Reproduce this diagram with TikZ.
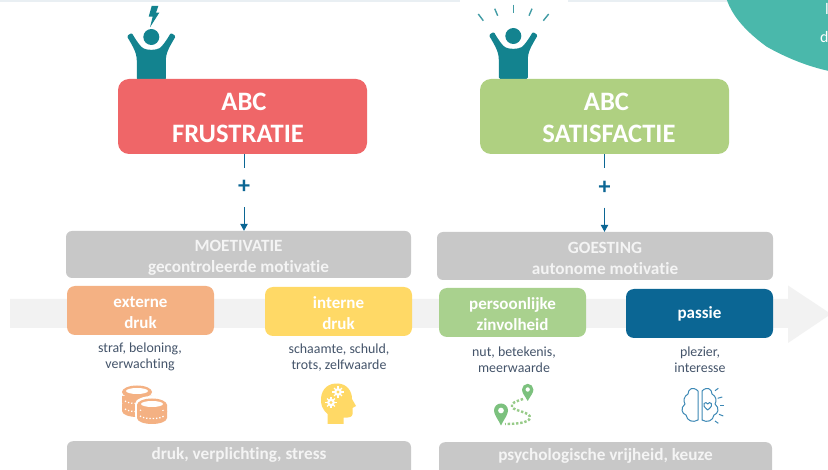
\documentclass[tikz,border=0pt]{standalone}
\usepackage{fontspec}
\setmainfont[Ligatures=CommonOff]{Carlito}
\usetikzlibrary{arrows.meta}
\definecolor{redbox}{HTML}{EF6668}
\definecolor{greenbox}{HTML}{AFD081}
\definecolor{greybox}{HTML}{C8C8C8}
\definecolor{orangebox}{HTML}{F4B183}
\definecolor{yellowbox}{HTML}{FFD966}
\definecolor{leafbox}{HTML}{A9D18E}
\definecolor{bluebox}{HTML}{0B6694}
\definecolor{blobcol}{HTML}{4AB8AB}
\definecolor{figcol}{HTML}{13838F}
\definecolor{subtext}{HTML}{44546A}
\definecolor{bandcol}{HTML}{F2F2F2}
\definecolor{topband}{HTML}{E9EFF3}
\definecolor{pincol}{HTML}{7CC17E}
\definecolor{braincol}{HTML}{3C88B5}
\definecolor{softwhite}{HTML}{F4F4F4}
\newcommand\lowered[1]{\rule{0pt}{#1pt}}
\tikzset{
  x=1pt,y=-1pt,
  abcbox/.style={rounded corners=11pt,inner sep=0pt,minimum width=249pt,minimum height=75pt,text=white,align=center,
     font=\bfseries\fontsize{26.6}{32}\selectfont},
  headbox/.style={fill=greybox,rounded corners=6pt,inner sep=0pt,text=softwhite,align=center,
     font=\bfseries\fontsize{17.2}{21}\selectfont},
  kindbox/.style={rounded corners=8pt,inner sep=0pt,minimum width=147pt,minimum height=49pt,text=white,align=center,
     font=\bfseries\fontsize{17}{21}\selectfont},
  sublabel/.style={inner sep=0pt,text=subtext,align=center,font=\fontsize{13.9}{16.5}\selectfont},
  plusnode/.style={inner sep=0pt,minimum width=14pt,minimum height=39pt,text=bluebox,font=\bfseries\fontsize{24}{24}\selectfont},
  link/.style={draw=bluebox,line width=1pt},
  person/.pic={
    \fill[figcol] (0,0) circle[radius=8];
    \fill[figcol,draw=figcol,line width=3pt,line join=round]
      (-13,41.5) -- (-13,24) .. controls (-13,15) and (-17,9) .. (-22.5,-0.5)
      -- (-20,-2) .. controls (-16,5) and (-12,10.5) .. (-9,12.5)
      .. controls (-5,15) and (5,15) .. (9,12.5)
      .. controls (12,10.5) and (16,5) .. (20,-2) -- (22.5,-0.5)
      .. controls (17,9) and (13,15) .. (13,24) -- (13,41.5) -- cycle;
  },
  coinlayer/.pic={
    \fill[orangebox] (-15,0) -- (-15,7) .. controls (-15,10.5) and (-8,13) .. (0,13)
       .. controls (8,13) and (15,10.5) .. (15,7) -- (15,0) -- cycle;
    \draw[white,line width=1.3pt,dash pattern=on 1.3pt off 2pt] (-12,5) .. controls (-8,8.5) and (8,8.5) .. (12,5);
  },
  cointop/.pic={
    \fill[orangebox] (0,0) ellipse[x radius=15,y radius=6.5];
    \fill[white] (0,-1) ellipse[x radius=11,y radius=3];
  },
  coinhalo/.pic={
    \fill[white] (-17,0) -- (-17,12) .. controls (-17,17) and (-8,20) .. (0,20)
       .. controls (8,20) and (17,17) .. (17,12) -- (17,0) .. controls (17,-5) and (8,-8) .. (0,-8)
       .. controls (-8,-8) and (-17,-5) .. (-17,0) -- cycle;
  }
}
\begin{document}
\begin{tikzpicture}
\path[use as bounding box,clip] (0,0) rectangle (828,470);
\fill[white] (0,0) rectangle (828,470);
\fill[topband] (0,0) rectangle (828,2);
\fill[white] (460,0) rectangle (568,2);
% teal corner
\fill[blobcol] (726.5,-1) .. controls (733,18) and (748,33) .. (766.7,46.7) .. controls (785,57) and (806,66) .. (829,71) -- (829,-1) -- cycle;
\node[anchor=base,white,inner sep=0pt,font=\fontsize{16}{16}\selectfont] (cornerA) at (827,15) {l};
\node[anchor=base west,white,inner sep=0pt,font=\fontsize{16}{16}\selectfont] (cornerB) at (820,43) {d};
% big arrow
\fill[bandcol] (10,299) -- (788,299) -- (788,285.5) -- (831,314) -- (788,343) -- (788,328) -- (10,328) -- cycle;
% figures
\pic at (151.3,37) {person};
\fill[figcol] (151.7,6) -- (158.3,6) -- (156,12.7) -- (159.3,12.7) -- (150,27.3) -- (152.7,16.7) -- (148.7,16.7) -- cycle;
\pic at (513.3,36) {person};
\foreach \xa/\ya/\xb/\yb in {478.3/14/483.3/20.7, 494.7/8.7/497.7/15.7, 513.3/4.7/513.3/12.7, 532/8.7/529/15.7, 548.7/14/543.3/20.7}
  \draw[figcol!80!white,line width=1.4pt] (\xa,\ya) -- (\xb,\yb);
% main boxes
\node[abcbox,fill=redbox] (frus) at (242.5,116.5) {\lowered{21}\hspace*{3pt}ABC\\FRUSTRATIE\hspace*{9pt}};
\node[abcbox,fill=greenbox] (sat) at (604.5,116.5) {\lowered{21}\hspace*{4pt}ABC\\\hspace*{9pt}SATISFACTIE};
\node[headbox,minimum width=345pt,minimum height=47pt] (moet) at (238.5,254.5) {\lowered{17}MOETIVATIE\\gecontroleerde motivatie};
\node[headbox,minimum width=336pt,minimum height=48pt] (goes) at (605,256) {\lowered{17}GOESTING\\autonome motivatie};
\node[plusnode] (plusA) at (244,187.5) {\raisebox{-6.5pt}[0pt][0pt]{+}};
\node[plusnode] (plusB) at (604.5,188) {\raisebox{-6.5pt}[0pt][0pt]{+}};
\draw[link] (plusA |- frus.south) -- (plusA);
\draw[link,-{Triangle[length=7pt,width=7.5pt]}] (plusA) -- (plusA |- moet.north);
\draw[link] (plusB |- sat.south) -- (plusB);
\draw[link,-{Triangle[length=7pt,width=7.5pt]}] (plusB) -- (plusB |- goes.north);
% kinds
\node[kindbox,fill=orangebox] (ext) at (140.5,310.5) {\lowered{15}externe\\druk};
\node[kindbox,fill=yellowbox] (int) at (338.5,311.5) {\lowered{15}interne\\druk};
\node[kindbox,fill=leafbox] (pers) at (512.5,312.5) {\lowered{16}persoonlijke\\zinvolheid};
\node[kindbox,fill=bluebox] (pass) at (699.5,313.5) {passie};
\node[sublabel] (subA) at (140,357) {straf, beloning,\\verwachting};
\node[sublabel] (subB) at (339,357.5) {schaamte, schuld,\\trots, zelfwaarde};
\node[sublabel] (subC) at (514,359.5) {nut, betekenis,\\meerwaarde};
\node[sublabel] (subD) at (700,359.5) {plezier,\\interesse};
% bottom
\node[headbox,minimum width=344pt,minimum height=50pt,anchor=north] (botA) at (239,441) {\raisebox{25pt}{druk, verplichting, stress}};
\node[headbox,minimum width=333pt,minimum height=50pt,anchor=north] (botB) at (605.5,442) {\raisebox{25pt}{psychologische vrijheid, keuze}};
% coins
\pic at (137,396) {coinlayer};
\pic at (137,404) {coinlayer};
\pic at (137,392) {cointop};
\pic at (152,404) {coinhalo};
\pic at (152,405) {coinlayer};
\pic at (152,411) {coinlayer};
\pic at (152,405) {cointop};
% head with gears
\fill[yellowbox] (327.5,424) -- (327.5,414) .. controls (322,409) and (320.5,404) .. (321,398)
  .. controls (322,388) and (329,383) .. (338,383.5) .. controls (347,384) and (352,391) .. (352,399)
  -- (356,406) -- (352.5,408) -- (352.5,414) .. controls (352.5,417) and (349,418) .. (343.5,417.5) -- (343.5,424) -- cycle;
\foreach \cx/\cy in {338/392,331/402.5}{
  \fill[white] (\cx,\cy) circle[radius=3.9];
  \foreach \a in {0,45,...,315}
    \draw[white,line width=1.4pt] (\cx,\cy) -- ++(\a:5.6);
  \fill[yellowbox] (\cx,\cy) circle[radius=1.7];
}
% map pins
\draw[leafbox!60!pincol,line width=2.4pt,dash pattern=on 2.4pt off 1.8pt]
  (523,399) .. controls (517,401) and (510,403) .. (512,407)
  .. controls (514,411) and (531,412) .. (530,418)
  .. controls (529,423) and (515,424) .. (505,424);
\fill[pincol,even odd rule] (501,425.5) .. controls (498,419) and (494,415) .. (494,410.5)
  .. controls (494,406.6) and (497.1,403.5) .. (501,403.5) .. controls (504.9,403.5) and (508,406.6) .. (508,410.5)
  .. controls (508,415) and (504,419) .. (501,425.5) -- cycle
  (501,410.5) circle[radius=3];
\fill[pincol,even odd rule] (527.7,401) .. controls (525,396) and (522,393) .. (522,389.5)
  .. controls (522,386.4) and (524.6,383.8) .. (527.7,383.8) .. controls (530.8,383.8) and (533.4,386.4) .. (533.4,389.5)
  .. controls (533.4,393) and (530.4,396) .. (527.7,401) -- cycle
  (527.7,389.5) circle[radius=2.3];
% brain
\begin{scope}[draw=braincol,line width=1pt,line join=round]
\draw (698,391) .. controls (693,386) and (688,389) .. (688,394)
  .. controls (684,396) and (683,401) .. (685,404) .. controls (680,408) and (682,414) .. (686,415)
  .. controls (687,421) and (693,423) .. (698,420) -- cycle;
\draw (702,391) .. controls (707,386) and (712,389) .. (712,394)
  .. controls (716,396) and (717,401) .. (715,404) .. controls (720,408) and (718,414) .. (714,415)
  .. controls (713,421) and (707,423) .. (702,420) -- cycle;
\draw (707.7,410) .. controls (704,407) and (703,405) .. (704,403.5) .. controls (705,402) and (707,402.5) .. (707.7,404)
  .. controls (708.4,402.5) and (710.4,402) .. (711.4,403.5) .. controls (712.4,405) and (711.4,407) .. (707.7,410) -- cycle;
\foreach \xa/\ya/\xb/\yb in {715/390.7/718.3/388.3, 717.7/398.3/722.3/397, 720/406/724.3/406, 719/414.3/723.3/416, 715/421/718.3/423.3}
  \draw (\xa,\ya) -- (\xb,\yb);
\end{scope}
\end{tikzpicture}
\end{document}
